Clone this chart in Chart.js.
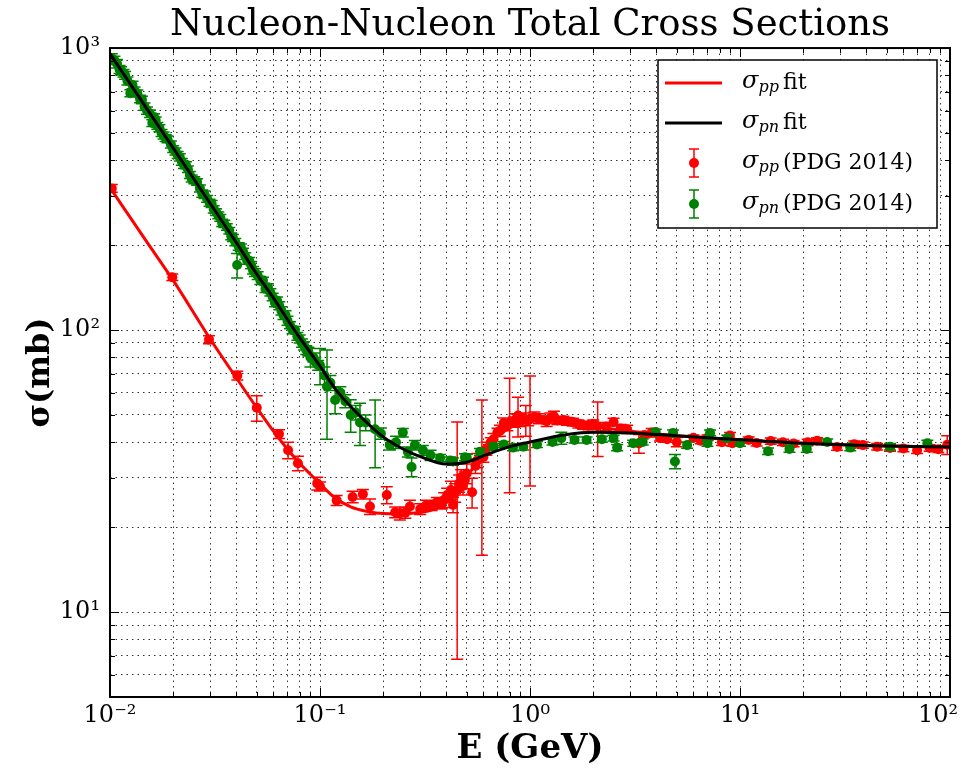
<html>
  <head>
    <script src="https://cdn.jsdelivr.net/npm/chart.js@4.4.0/dist/chart.umd.min.js"></script>
    <style>
      body { margin: 0; background: #fff; }
    </style>
  </head>
  <body>
    <canvas id="xsChart" width="967" height="776"></canvas>
    <script>
      // E in GeV, sigma in mb
      const ppFitE = [0.01, 0.015, 0.02, 0.03, 0.04, 0.05, 0.06, 0.07, 0.08, 0.09, 0.1, 0.115, 0.14, 0.17, 0.2, 0.24, 0.29, 0.345, 0.4, 0.45, 0.5, 0.55, 0.6, 0.65, 0.7, 0.8, 0.9, 1.0, 1.2, 1.5, 2, 3, 5, 8, 20, 50, 100];
      const ppFitSigma = [320, 205, 150, 93, 67.6, 53, 43.8, 37.8, 33.7, 30.8, 28.5, 25.8, 23.6, 22.7, 22.35, 22.3, 22.5, 23.1, 24.5, 26.5, 30, 33.5, 36.5, 39.5, 42, 45, 47, 47.9, 48, 47, 45.5, 43.8, 42.2, 41.2, 39.7, 38.8, 38.5];

      const pnFitE = [0.01, 0.015, 0.02, 0.03, 0.04, 0.05, 0.06, 0.07, 0.08, 0.1, 0.12, 0.15, 0.2, 0.25, 0.3, 0.4, 0.5, 0.6, 0.8, 1.0, 1.5, 2, 3, 5, 8, 20, 50, 100];
      const pnFitSigma = [955, 609, 442, 281, 204, 158, 130, 109, 94, 74.5, 61, 50.8, 41.8, 37.8, 35.6, 33.5, 34, 35.8, 38.6, 40.1, 42.6, 43.4, 43.2, 42.2, 41.3, 39.7, 38.8, 38.5];

      const ppE = [0.0102, 0.0198, 0.0296, 0.0404, 0.050, 0.0638, 0.0705, 0.0785, 0.097, 0.100,
        0.120, 0.143, 0.160, 0.173, 0.208, 0.228, 0.240, 0.255, 0.268, 0.300,
        0.320, 0.340, 0.360, 0.380, 0.390, 0.403, 0.420, 0.430, 0.440, 0.450,
        0.460, 0.470, 0.480, 0.490, 0.500, 0.530, 0.550, 0.560, 0.590, 0.600,
        0.620, 0.650, 0.670, 0.700, 0.720, 0.750, 0.780, 0.800, 0.840, 0.860,
        0.877, 0.900, 0.930, 0.955, 0.980, 1.00, 1.05, 1.10, 1.16, 1.20,
        1.25, 1.30, 1.35, 1.44, 1.50, 1.60, 1.70, 1.79, 1.90, 2.00,
        2.10, 2.30, 2.50, 2.70, 2.90, 3.30, 3.50, 3.80, 4.16, 4.50,
        5.00, 6.00, 6.50, 7.00, 8.20, 8.96, 9.20, 11, 12, 14,
        16, 18, 21, 23.3, 29, 35, 38.5, 45, 51.8, 60,
        69.7, 80, 88, 97];
      const ppSigma = [318, 154, 92.5, 69, 53, 42.8, 37.5, 33.7, 28.6, 27.9,
        24.9, 25.6, 26.2, 23.7, 26.0, 22.6, 22.4, 22.5, 23.7, 23.2,
        23.9, 23.9, 24.5, 24.2, 25.0, 26.0, 27.1, 24.0, 26.5, 27.0,
        28.6, 30.0, 28.0, 29.4, 31.0, 26.6, 33.0, 34.5, 36.2, 35.5,
        38.0, 40.0, 41.0, 43.4, 44.0, 46.8, 46.0, 47.0, 47.2, 48.5,
        49.8, 47.5, 48.8, 48.0, 47.8, 48.4, 49.2, 48.5, 48.0, 47.5,
        48.8, 49.5, 47.8, 48.0, 47.5, 47.2, 46.5, 46.0, 45.8, 46.5,
        45.6, 45.5, 47.2, 44.8, 44.5, 39.6, 42.5, 43.3, 41.4, 41.0,
        40.1, 41.5, 40.5, 41.5, 40.0, 42.3, 39.7, 40.8, 39.8, 40.4,
        40.0, 39.6, 40.0, 40.5, 38.5, 39.4, 39.1, 38.6, 38.2, 38.0,
        37.5, 38.2, 37.8, 39.2];
      const ppErr = [10, 4, 3, 2.5, 5.5, 1.5, 2.5, 2, 1.5, 1,
        1, 1.2, 1, 1.5, 1.8, 1, 1.2, 1, 1.2, 1,
        1, 1, 1, 1, 1.5, 1.5, 2, 1.5, 2, 20.2,
        2, 2, 2, 2, 2.5, 3.2, 2, 2, 20.3, 1.5,
        2, 1.5, 2, 1.5, 2, 2, 2, 20.5, 2, 2,
        8, 2, 2, 6, 2, 20.4, 2, 2, 1.5, 2,
        2, 2, 1.5, 1.5, 1.5, 1.5, 1.5, 1.5, 1.5, 1.5,
        10, 1.5, 1.5, 1.5, 1.5, 3, 1, 1.5, 1, 1,
        1.5, 1, 1, 1, 1, 1, 1, 1, 1, 1,
        1, 1, 1, 1, 1, 1, 1, 1, 1, 1,
        1, 1, 1, 3];

      const pnE = [0.0102, 0.0105, 0.0108, 0.0111, 0.0113, 0.0116, 0.0118, 0.0121, 0.0125, 0.0128,
        0.0131, 0.0135, 0.0139, 0.0142, 0.0146, 0.0150, 0.0155, 0.0159, 0.0162, 0.0165,
        0.0168, 0.0172, 0.0176, 0.0180, 0.0184, 0.0188, 0.0195, 0.0200, 0.0205, 0.0210,
        0.0215, 0.0220, 0.0225, 0.0230, 0.0235, 0.0240, 0.0245, 0.0252, 0.0260, 0.0268,
        0.0275, 0.0282, 0.0290, 0.0298, 0.0305, 0.0312, 0.0320, 0.0328, 0.0335, 0.0342,
        0.0350, 0.0360, 0.0370, 0.0378, 0.0385, 0.0395, 0.0403, 0.0410, 0.0420, 0.0430,
        0.0440, 0.0450, 0.0460, 0.0470, 0.0480, 0.0490, 0.0505, 0.0520, 0.0535, 0.0550,
        0.0565, 0.0580, 0.0595, 0.0610, 0.0625, 0.0640, 0.0655, 0.0670, 0.0685, 0.0700,
        0.0720, 0.0740, 0.0760, 0.0780, 0.0800, 0.0820, 0.0840, 0.0860, 0.0880, 0.0900,
        0.0930, 0.0950, 0.0980, 0.100, 0.105, 0.108, 0.112, 0.118, 0.125, 0.132,
        0.140, 0.148, 0.155, 0.165, 0.183, 0.195, 0.215, 0.230, 0.248, 0.262,
        0.273, 0.283, 0.309, 0.336, 0.373, 0.417, 0.43, 0.49, 0.50, 0.578,
        0.67, 0.75, 0.83, 0.93, 1.08, 1.28, 1.41, 1.63, 1.86, 2.2,
        2.5, 2.6, 3.1, 3.44, 3.97, 4.8, 4.9, 5.6, 7.0, 7.2,
        8.7, 10, 13.6, 17.2, 20.8, 26, 33.5, 51.8, 78];
      const pnSigma = [920, 905, 880, 840, 830, 815, 800, 765, 692, 740,
        705, 690, 660, 655, 620, 600, 585, 542, 570, 555,
        530, 520, 500, 490, 480, 475, 455, 438, 430, 418,
        410, 395, 385, 384, 372, 355, 345, 340, 335, 318,
        305, 302, 292, 283, 280, 268, 262, 255, 250, 240,
        238, 232, 225, 215, 212, 205, 170, 198, 196, 190,
        183, 176, 176, 170, 163, 160, 156, 150, 150, 140,
        142, 136, 131, 125, 127, 122, 117, 113, 113, 108,
        104, 100, 100, 95, 93, 90, 88, 85, 84, 80,
        80, 77, 75, 75, 69, 63, 65, 56.5, 60, 56,
        50, 51, 47, 47, 44.5, 43, 39.1, 40, 43.3, 37,
        32.7, 39.1, 37.5, 36, 35.2, 34.5, 34.2, 35.4, 35.2, 37,
        38.6, 39.3, 38.3, 38.6, 39.3, 40.1, 41.4, 40.8, 40.8, 41,
        41.4, 38.3, 39.7, 40.1, 43.5, 43.2, 34.2, 39.1, 39.7, 43.2,
        41.4, 39.7, 37.2, 37.9, 37.9, 40.1, 38.3, 38.6, 39.7];
      const pnErr = [35, 30, 30, 28, 28, 25, 25, 25, 20, 22,
        22, 20, 20, 20, 18, 18, 18, 15, 15, 15,
        15, 15, 14, 14, 14, 13, 13, 12, 12, 12,
        12, 11, 11, 11, 10, 10, 10, 10, 9, 9,
        9, 9, 8, 8, 8, 8, 7, 7, 7, 7,
        7, 6, 6, 6, 6, 6, 17, 6, 6, 5,
        5, 5, 5, 5, 5, 5, 5, 5, 4, 4,
        4, 4, 4, 4, 4, 4, 4, 4, 4, 4,
        3, 3, 3, 3, 3, 3, 3, 3, 3, 6,
        3, 3, 3, 11, 5, 22, 4, 6, 3, 3,
        6.6, 3, 8, 3, 12, 2, 1.5, 2, 1.5, 1.5,
        2.5, 1.5, 1.5, 1.5, 1, 1, 1, 1, 1, 1,
        1, 1, 1, 1, 1, 1, 2, 1, 1, 1,
        1, 1, 1, 1, 1, 1, 2, 1, 1, 1,
        1, 1, 1, 1, 1, 1, 1, 1, 1];

      const xDecades = [0.01, 0.1, 1, 10, 100];
      const xTickLabels = ['10⁻²', '10⁻¹', '10⁰', '10¹', '10²\u2002\u2002'];
      const yDecades = [10, 100, 1000];
      const yTickLabels = ['10¹', '10²', '10³'];

      const RED = '#ff0000';
      const GREEN = '#008000';
      const SERIF = '"DejaVu Serif"';

      function toPoints(xs, ys) {
        return xs.map((x, i) => ({x: x, y: ys[i]}));
      }

      // 1..9 x 10^n grid/tick positions between lo and hi
      function logTicks(lo, hi) {
        const out = [];
        for (let e = Math.floor(Math.log10(lo)); e <= Math.ceil(Math.log10(hi)); e++) {
          for (let m = 1; m < 10; m++) {
            const v = +(m * Math.pow(10, e)).toPrecision(3);
            if (v >= lo * 0.999 && v <= hi * 1.001) out.push({value: v});
          }
        }
        return out;
      }

      function isDecade(v) {
        const l = Math.log10(v);
        return Math.abs(l - Math.round(l)) < 1e-6;
      }

      function labelFor(v, decades, labels) {
        const i = decades.findIndex(d => Math.abs(d - v) / d < 1e-6);
        return i >= 0 ? labels[i] : '';
      }

      // error bars, drawn under each dataset's markers
      const errorBars = {
        id: 'errorBars',
        beforeDatasetDraw(chart, args) {
          const ds = chart.data.datasets[args.index];
          if (!ds.errors) return;
          const {ctx, chartArea: a, scales: {x, y}} = chart;
          ctx.save();
          ctx.beginPath();
          ctx.rect(a.left, a.top, a.right - a.left, a.bottom - a.top);
          ctx.clip();
          ctx.strokeStyle = ds.backgroundColor;
          ctx.lineWidth = 1.5;
          ctx.beginPath();
          ds.data.forEach((p, i) => {
            const err = ds.errors[i];
            const px = x.getPixelForValue(p.x);
            const top = y.getPixelForValue(p.y + err);
            const bot = y.getPixelForValue(Math.max(p.y - err, 0.1));
            ctx.moveTo(px, top); ctx.lineTo(px, bot);
            ctx.moveTo(px - 6, top); ctx.lineTo(px + 6, top);
            ctx.moveTo(px - 6, bot); ctx.lineTo(px + 6, bot);
          });
          ctx.stroke();
          ctx.restore();
        }
      };

      // matplotlib style box with inward ticks on all four sides
      const frame = {
        id: 'frame',
        afterDatasetsDraw(chart) {
          const {ctx, chartArea: a, scales: {x, y}} = chart;
          ctx.save();
          ctx.strokeStyle = '#000';
          ctx.lineWidth = 1;
          ctx.beginPath();
          x.ticks.forEach(t => {
            const px = Math.round(x.getPixelForValue(t.value)) + 0.5;
            const len = isDecade(t.value) ? 9 : 5;
            ctx.moveTo(px, a.bottom); ctx.lineTo(px, a.bottom - len);
            ctx.moveTo(px, a.top); ctx.lineTo(px, a.top + len);
          });
          y.ticks.forEach(t => {
            const py = Math.round(y.getPixelForValue(t.value)) + 0.5;
            const len = isDecade(t.value) ? 9 : 5;
            ctx.moveTo(a.left, py); ctx.lineTo(a.left + len, py);
            ctx.moveTo(a.right, py); ctx.lineTo(a.right - len, py);
          });
          ctx.stroke();
          ctx.lineWidth = 2;
          ctx.strokeRect(a.left, a.top, a.right - a.left, a.bottom - a.top);
          ctx.restore();
        }
      };

      function sigmaLabel(ctx, x, y, sub, rest) {
        ctx.fillStyle = '#000';
        ctx.textBaseline = 'alphabetic';
        ctx.textAlign = 'left';
        ctx.font = 'italic 24px ' + SERIF;
        ctx.fillText('σ', x, y + 5);
        const w = ctx.measureText('σ').width;
        ctx.font = 'italic 16px ' + SERIF;
        ctx.fillText(sub, x + w, y + 9);
        ctx.font = '22px ' + SERIF;
        ctx.fillText(rest, 783, y + 6);
      }

      const legendBox = {
        id: 'legendBox',
        afterDraw(chart) {
          const ctx = chart.ctx;
          ctx.save();
          ctx.fillStyle = '#fff';
          ctx.fillRect(658, 60, 279, 168);
          ctx.strokeStyle = '#000';
          ctx.lineWidth = 1.5;
          ctx.strokeRect(658, 60, 279, 168);

          ctx.lineWidth = 3;
          ctx.strokeStyle = RED;
          ctx.beginPath(); ctx.moveTo(665, 83); ctx.lineTo(722, 83); ctx.stroke();
          ctx.strokeStyle = '#000';
          ctx.beginPath(); ctx.moveTo(665, 123); ctx.lineTo(722, 123); ctx.stroke();

          [[163, RED], [204, GREEN]].forEach(([cy, col]) => {
            ctx.strokeStyle = col;
            ctx.fillStyle = col;
            ctx.lineWidth = 1.5;
            ctx.beginPath();
            ctx.moveTo(694, cy - 14); ctx.lineTo(694, cy + 14);
            ctx.moveTo(689, cy - 14); ctx.lineTo(699, cy - 14);
            ctx.moveTo(689, cy + 14); ctx.lineTo(699, cy + 14);
            ctx.stroke();
            ctx.beginPath(); ctx.arc(694, cy, 5, 0, Math.PI * 2); ctx.fill();
          });

          sigmaLabel(ctx, 742, 83, 'pp', 'fit');
          sigmaLabel(ctx, 742, 123, 'pn', 'fit');
          sigmaLabel(ctx, 742, 163, 'pp', '(PDG 2014)');
          sigmaLabel(ctx, 742, 204, 'pn', '(PDG 2014)');
          ctx.restore();
        }
      };

      Chart.defaults.font.family = SERIF;
      Chart.defaults.color = '#000';

      const gridStyle = {
        color: 'rgba(0,0,0,0.8)',
        lineWidth: 1,
        drawTicks: false,
        borderDash: [1.5, 4]
      };

      new Chart(document.getElementById('xsChart'), {
        type: 'scatter',
        data: {
          datasets: [
            {
              label: 'pn fit',
              data: toPoints(pnFitE, pnFitSigma),
              showLine: true,
              borderColor: '#000',
              borderWidth: 3,
              pointRadius: 0,
              cubicInterpolationMode: 'monotone',
              order: 0
            },
            {
              label: 'pn PDG 2014',
              data: toPoints(pnE, pnSigma),
              errors: pnErr,
              backgroundColor: GREEN,
              borderWidth: 0,
              pointRadius: 5,
              order: 1
            },
            {
              label: 'pp PDG 2014',
              data: toPoints(ppE, ppSigma),
              errors: ppErr,
              backgroundColor: RED,
              borderWidth: 0,
              pointRadius: 5,
              order: 2
            },
            {
              label: 'pp fit',
              data: toPoints(ppFitE, ppFitSigma),
              showLine: true,
              borderColor: RED,
              borderWidth: 3,
              pointRadius: 0,
              cubicInterpolationMode: 'monotone',
              order: 3
            }
          ]
        },
        options: {
          responsive: false,
          animation: false,
          layout: { padding: { left: 0, right: 17, top: 0, bottom: 0 } },
          plugins: {
            legend: { display: false },
            tooltip: { enabled: false },
            title: {
              display: true,
              fullSize: false,
              text: 'Nucleon-Nucleon Total Cross Sections',
              font: { size: 37, weight: 'normal', lineHeight: 1.15 },
              padding: { top: 4, bottom: 1.5 }
            }
          },
          scales: {
            x: {
              type: 'logarithmic',
              min: 0.01,
              max: 100,
              afterBuildTicks: (scale) => { scale.ticks = logTicks(0.01, 100); },
              afterFit: (scale) => {
                scale.height = 79;
                scale.paddingLeft = 0;
                scale.paddingRight = 0;
              },
              ticks: {
                autoSkip: false,
                maxRotation: 0,
                padding: 4,
                font: { size: 24 },
                callback: (v) => labelFor(v, xDecades, xTickLabels)
              },
              grid: gridStyle,
              border: { display: false, dash: [1.5, 4] },
              title: {
                display: true,
                text: 'E (GeV)',
                font: { size: 34, weight: 'bold', lineHeight: 1.2 },
                padding: { top: 0, bottom: 6 }
              }
            },
            y: {
              type: 'logarithmic',
              min: 5,
              max: 1000,
              afterBuildTicks: (scale) => { scale.ticks = logTicks(5, 1000); },
              afterFit: (scale) => {
                scale.width = 110;
                scale.paddingTop = 0;
                scale.paddingBottom = 0;
              },
              ticks: {
                autoSkip: false,
                padding: 10,
                font: { size: 24 },
                callback: (v) => labelFor(v, yDecades, yTickLabels)
              },
              grid: gridStyle,
              border: { display: false, dash: [1.5, 4] },
              title: {
                display: true,
                text: 'σ(mb)',
                font: { size: 32, weight: 'bold', lineHeight: 1.2 },
                padding: { top: 21, bottom: 0 }
              }
            }
          }
        },
        plugins: [errorBars, frame, legendBox]
      });
    </script>
  </body>
</html>
